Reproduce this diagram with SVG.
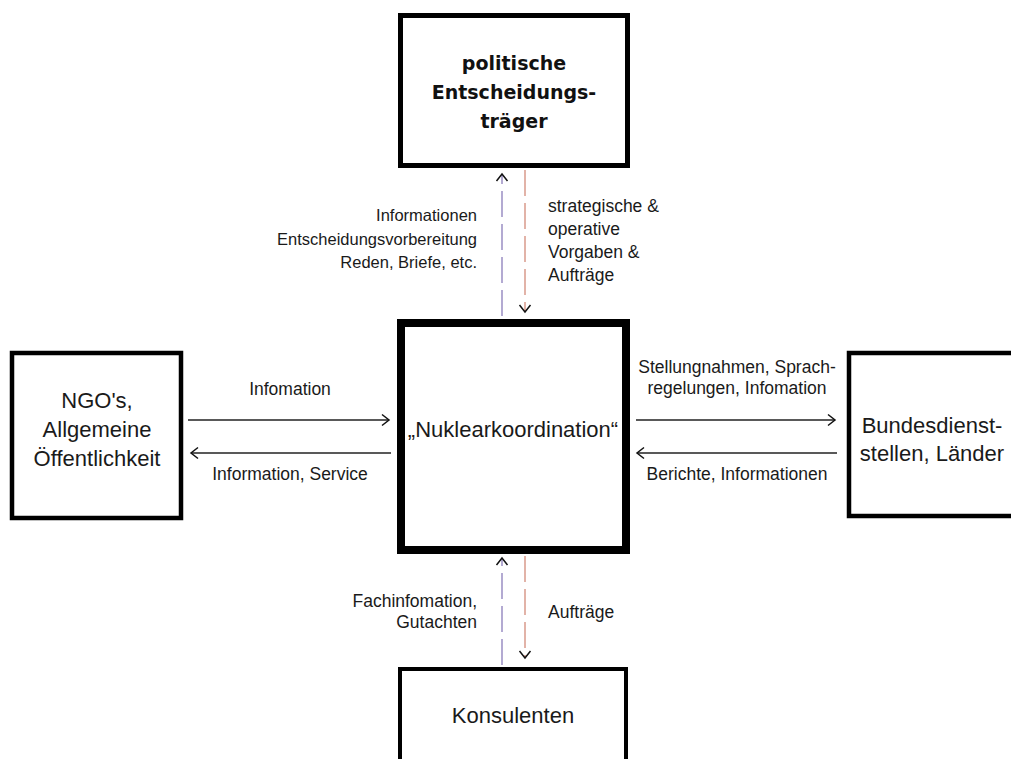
<svg xmlns="http://www.w3.org/2000/svg" width="1011" height="759" viewBox="0 0 1011 759">
<style>
.box{fill:#fff;stroke:#000}
.t{font-family:"Liberation Sans",Arial,sans-serif;fill:#1a1a1a}
.big{font-size:22px;text-anchor:middle}
.bold{font-family:"DejaVu Sans",sans-serif;font-weight:bold;font-size:19px;text-anchor:middle;fill:#111}
.lab{font-size:17.5px}
.labs{font-size:16.5px}
.mid{text-anchor:middle}
.end{text-anchor:end}
.h{stroke:#222;stroke-width:1.5;fill:none;marker-end:url(#head)}
.up{stroke:#9a8fc4;stroke-width:1.5;stroke-dasharray:26 7;fill:none;marker-end:url(#head)}
.down{stroke:#d99a8c;stroke-width:1.5;stroke-dasharray:26 7;fill:none;marker-end:url(#head)}
</style>
<defs>
<marker id="head" viewBox="0 0 10 14" refX="8" refY="7" markerWidth="10" markerHeight="14" markerUnits="userSpaceOnUse" orient="auto">
<path d="M1,1.5 L8,7 L1,12.5" fill="none" stroke="#111" stroke-width="1.5"/>
</marker>
</defs>
<rect width="1011" height="759" fill="#fff"/>

<g id="connectors">
<line class="up" x1="502" y1="316" x2="502" y2="174"/>
<line class="down" x1="525" y1="170" x2="525" y2="312"/>
<line class="up" x1="502" y1="665" x2="502" y2="558"/>
<line class="down" x1="525" y1="556" x2="525" y2="658"/>
<line class="h" x1="188" y1="420" x2="389" y2="420"/>
<line class="h" x1="391" y1="453" x2="191" y2="453"/>
<line class="h" x1="636" y1="420" x2="835" y2="420"/>
<line class="h" x1="837" y1="453" x2="637" y2="453"/>
<g class="t labs end">
<text x="477" y="221">Informationen</text>
<text x="477" y="245">Entscheidungsvorbereitung</text>
<text x="477" y="268">Reden, Briefe, etc.</text>
</g>
<g class="t lab">
<text x="548" y="212">strategische &amp;</text>
<text x="548" y="235">operative</text>
<text x="548" y="258">Vorgaben &amp;</text>
<text x="548" y="281">Aufträge</text>
</g>
<g class="t lab end">
<text x="477" y="607">Fachinfomation,</text>
<text x="477" y="628">Gutachten</text>
</g>
<text class="t lab" x="548" y="618">Aufträge</text>
<g class="t lab mid">
<text x="290" y="395">Infomation</text>
<text x="290" y="480">Information, Service</text>
<text x="737" y="373">Stellungnahmen, Sprach-</text>
<text x="737" y="394">regelungen, Infomation</text>
<text x="737" y="480">Berichte, Informationen</text>
</g>
</g>

<g id="node-politik">
<rect class="box" x="400.5" y="15.5" width="227" height="150" stroke-width="5"/>
<text class="bold" x="514" y="70">politische</text>
<text class="bold" x="514" y="99">Entscheidungs-</text>
<text class="bold" x="514" y="128">träger</text>
</g>

<g id="node-nuklear">
<rect class="box" x="401" y="323" width="225" height="227" stroke-width="8"/>
<text class="t big" x="513" y="437">„Nuklearkoordination“</text>
</g>

<g id="node-ngo">
<rect class="box" x="12" y="353" width="169" height="165" stroke-width="4.5"/>
<text class="t big" x="97" y="408">NGO's,</text>
<text class="t big" x="97" y="437">Allgemeine</text>
<text class="t big" x="97" y="466">Öffentlichkeit</text>
</g>

<g id="node-bund">
<rect class="box" x="849" y="353" width="200" height="163" stroke-width="4.5"/>
<text class="t big" x="932" y="433">Bundesdienst-</text>
<text class="t big" x="932" y="461">stellen, Länder</text>
</g>

<g id="node-konsulenten">
<rect class="box" x="400" y="669" width="226" height="100" stroke-width="4"/>
<text class="t big" x="513" y="723">Konsulenten</text>
</g>
</svg>
